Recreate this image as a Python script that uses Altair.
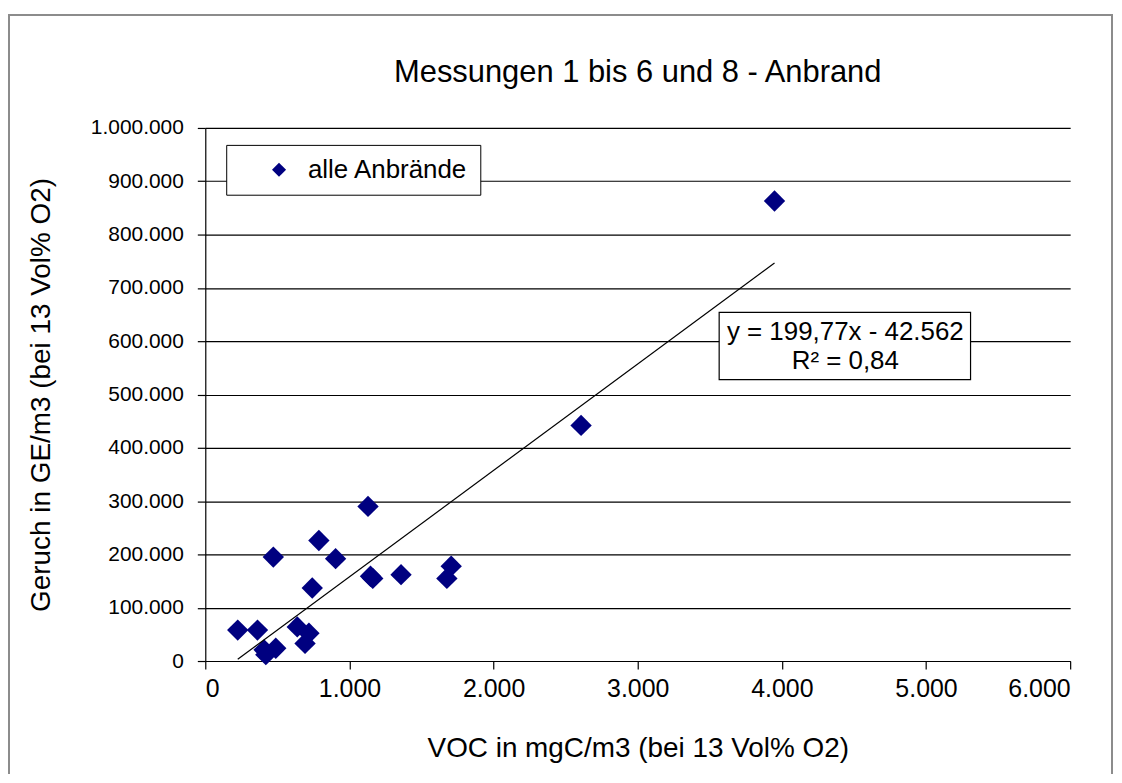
import altair as alt
import pandas as pd

# VOC in mgC/m3 and odour in GE/m3
voc = [225, 362, 472, 788, 904, 1129, 742, 1146, 1162, 1358, 1676, 1706,
       638, 719, 692, 408, 420, 489, 2607, 3949]
geruch = [58000, 58000, 195000, 226000, 192000, 290000, 137000, 159000, 155000,
          162000, 155000, 178000, 64000, 52000, 33000, 21000, 12000, 24000,
          442000, 863000]
serie = ["alle Anbrände"] * len(voc)

x_ticks = [0, 1000, 2000, 3000, 4000, 5000, 6000]
y_ticks = [0, 100000, 200000, 300000, 400000, 500000, 600000, 700000, 800000, 900000, 1000000]

# trend-line annotation box (data coordinates) and its text
eq_box_x = [3565, 5309]
eq_box_y = [528000, 654000]
eq_text = ["y = 199,77x - 42.562", "R² = 0,84"]
eq_text_x = [4440, 4440]
eq_text_y = [618000, 562000]

df = pd.DataFrame({"voc": voc, "geruch": geruch, "serie": serie})
box_df = pd.DataFrame({"x": [eq_box_x[0]], "x2": [eq_box_x[1]],
                       "y": [eq_box_y[0]], "y2": [eq_box_y[1]]})
txt_df = pd.DataFrame({"x": eq_text_x, "y": eq_text_y, "t": eq_text})

FONT = "Liberation Sans"
label_expr = "replace(format(datum.value, ','), regexp(',', 'g'), '.')"

xs = alt.Scale(domain=[0, 6000], nice=False)
ys = alt.Scale(domain=[0, 1000000], nice=False)

x_axis = alt.Axis(values=x_ticks, labelExpr=label_expr, grid=False,
                  title="VOC in mgC/m3 (bei 13 Vol% O2)", tickSize=8,
                  labelFontSize=25, titleFontSize=28,
                  labelPadding=8, titleY=88, titleBaseline="middle")
y_axis = alt.Axis(values=y_ticks, labelExpr=label_expr, grid=True,
                  title="Geruch in GE/m3 (bei 13 Vol% O2)", tickSize=8,
                  labelFontSize=21, titleFontSize=28,
                  labelPadding=14, titleX=-164, titleBaseline="middle")

base = alt.Chart(df)

points = base.mark_point(filled=True, size=460, color="#000080", opacity=1,
                         strokeWidth=0).encode(
    x=alt.X("voc:Q", scale=xs, axis=x_axis),
    y=alt.Y("geruch:Q", scale=ys, axis=y_axis),
    shape=alt.Shape("serie:N", scale=alt.Scale(range=["diamond"]),
                    legend=alt.Legend(title=None, orient="none", legendX=21, legendY=17,
                                      strokeColor="black", fillColor="white",
                                      padding=12, symbolOffset=28, symbolSize=200,
                                      symbolFillColor="#000080", symbolStrokeWidth=0,
                                      labelFontSize=26, labelFont=FONT, labelColor="black",
                                      labelOffset=16, labelLimit=500)),
)

trend = base.transform_regression("voc", "geruch").mark_line(
    color="black", strokeWidth=1.2).encode(
    x=alt.X("voc:Q", scale=xs), y=alt.Y("geruch:Q", scale=ys))

box = alt.Chart(box_df).mark_rect(fill="white", stroke="black", strokeWidth=1.2).encode(
    x=alt.X("x:Q", scale=xs), x2="x2:Q", y=alt.Y("y:Q", scale=ys), y2="y2:Q")

eq = alt.Chart(txt_df).mark_text(font=FONT, fontSize=26, color="black",
                                 align="center", baseline="middle").encode(
    x=alt.X("x:Q", scale=xs), y=alt.Y("y:Q", scale=ys), text="t:N")

frame = alt.Chart(df).mark_rect(fill="white", fillOpacity=0, stroke="#8c8c8c",
                                strokeWidth=1.5, clip=False).encode(
    x=alt.value(-197), x2=alt.value(910), y=alt.value(-113), y2=alt.value(720))

chart = alt.layer(frame, points, trend, box, eq).properties(
    width=868, height=535,
    title=alt.TitleParams("Messungen 1 bis 6 und 8 - Anbrand", font=FONT, fontSize=31,
                          fontWeight="normal", color="black", anchor="middle",
                          baseline="alphabetic", offset=-99, frame="group"),
    autosize=alt.AutoSizeParams(type="none"),
    padding={"left": 198, "top": 119, "right": 44, "bottom": 112},
).configure_view(stroke=None).configure_axis(
    labelFont=FONT, titleFont=FONT,
    titleFontWeight="normal", labelColor="black", titleColor="black",
    domainColor="black", tickColor="black", gridColor="black",
    domainWidth=1.2, tickWidth=1.2, gridWidth=1.2,
)

chart.save("out.html", embed_options={"renderer": "svg", "actions": False})
